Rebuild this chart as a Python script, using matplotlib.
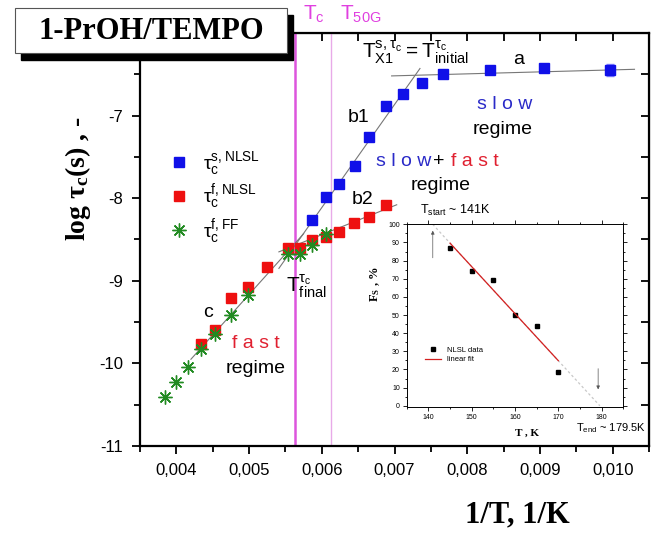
import numpy as np
import matplotlib
matplotlib.use('Agg')
import matplotlib.pyplot as plt
from matplotlib import ticker
from matplotlib.patches import Rectangle

plt.rcParams['font.family'] = ['Liberation Sans', 'DejaVu Sans']
plt.rcParams['axes.unicode_minus'] = False

# slow component, NLSL (blue squares)
invT_slow = [0.005863, 0.006055, 0.006233, 0.006452, 0.006644, 0.006877,
             0.007123, 0.007384, 0.007671, 0.008315, 0.009055, 0.009959]
logtau_slow = [-8.26, -7.98, -7.83, -7.61, -7.26, -6.89,
               -6.74, -6.60, -6.50, -6.45, -6.43, -6.45]
err_slow = [0, 0, 0.03, 0, 0, 0, 0, 0, 0, 0.03, 0.02, 0.07]

# fast component, NLSL (red squares)
invT_fast = [0.004342, 0.004534, 0.004753, 0.004986, 0.005247, 0.005534, 0.005699,
             0.005863, 0.006055, 0.006233, 0.006438, 0.006644, 0.006877]
logtau_fast = [-9.77, -9.59, -9.21, -9.08, -8.83, -8.60, -8.60,
               -8.51, -8.47, -8.41, -8.30, -8.23, -8.08]

# fast component, fast-motion formula (green stars)
invT_ff = [0.003849, 0.004000, 0.004164, 0.004342, 0.004534, 0.004753, 0.004986,
           0.005534, 0.005699, 0.005863, 0.006055]
logtau_ff = [-10.41, -10.22, -10.04, -9.83, -9.64, -9.42, -9.17,
             -8.68, -8.68, -8.57, -8.43]

# linear fits (end points)
fit_a = ([0.00696, 0.01030], [-6.52, -6.44])
fit_b1 = ([0.00541, 0.00735], [-8.85, -6.43])
fit_b2 = ([0.00541, 0.00703], [-8.65, -8.08])
fit_c = ([0.00420, 0.00575], [-9.95, -8.43])

invT_c = 0.00563
invT_50G = 0.006123

# inset: slow fraction vs T
T_K = [145, 150, 155, 160, 165, 170]
F_s = [87.2, 74.3, 69.2, 50.0, 44.0, 18.6]

fig = plt.figure(figsize=(6.68, 5.35), dpi=100)
ax = fig.add_axes([0.2096, 0.1664, 0.762, 0.772])

ax.axvline(invT_c, color='#dd55dd', lw=1.8, zorder=1)
ax.axvline(invT_50G, color='#e8aae8', lw=1.0, zorder=1)

for fx, fy in (fit_a, fit_b1, fit_b2, fit_c):
    ax.plot(fx, fy, color='#777777', lw=0.8, zorder=2)

ax.errorbar(invT_slow, logtau_slow, yerr=err_slow, fmt='none', ecolor='#8888ff', lw=1, capsize=3, zorder=3)
h1, = ax.plot(invT_slow, logtau_slow, 's', color='#1010e8', ms=7.5, mec='#1010e8', zorder=4,
              label=r'$\mathregular{\tau_c^{s,NLSL}}$')
h2, = ax.plot(invT_fast, logtau_fast, 's', color='#ee1010', ms=7.5, mec='#ee1010', zorder=4,
              label=r'$\mathregular{\tau_c^{f,NLSL}}$')
h3, = ax.plot(invT_ff, logtau_ff, ls='none', marker=(8, 2, 0), color='#228b22', ms=10, mew=1.0, zorder=5,
              label=r'$\mathregular{\tau_c^{f,FF}}$')

ax.set_xlim(0.0035, 0.0105)
ax.set_ylim(-11, -6)
ax.xaxis.set_major_locator(ticker.MultipleLocator(0.001))
ax.xaxis.set_minor_locator(ticker.MultipleLocator(0.0005))
ax.yaxis.set_major_locator(ticker.MultipleLocator(1))
ax.yaxis.set_minor_locator(ticker.MultipleLocator(0.5))
ax.xaxis.set_major_formatter(ticker.FuncFormatter(lambda v, p: ('%.3f' % v).replace('.', ',')))
# the -6 label sits under the title box
ax.yaxis.set_major_formatter(ticker.FuncFormatter(lambda v, p: '' if v > -6.5 else '%d' % round(v)))
ax.tick_params(which='both', direction='out', labelsize=12, width=1.3)
ax.tick_params(which='major', length=6, pad=6)
ax.tick_params(which='minor', length=4)
for s in ax.spines.values():
    s.set_linewidth(1.6)

# mirrored ticks pointing inward on top and right
top = ax.secondary_xaxis('top')
top.xaxis.set_major_locator(ticker.MultipleLocator(0.0005))
top.tick_params(direction='in', length=6, width=1.3, labeltop=False)
right = ax.secondary_yaxis('right')
right.yaxis.set_major_locator(ticker.MultipleLocator(0.5))
right.tick_params(direction='in', length=6, width=1.3, labelright=False)

ax.legend(handles=[h1, h2, h3], loc='upper left', bbox_to_anchor=(0.225, 0.752),
          bbox_transform=fig.transFigure, frameon=False, fontsize=14,
          labelspacing=0.28, handletextpad=0.6, handlelength=1.2)

# labels on the plot
txt = dict(fontsize=14, ha='center', va='center')
ax.text(0.0087, -6.32, 'a', **txt)
ax.text(0.006507, -7.02, 'b1', **txt)
ax.text(0.006562, -8.02, 'b2', **txt)
ax.text(0.004438, -9.38, 'c', **txt)
ax.text(0.00852, -6.87, 's l o w', color='#2a2ac8', **txt)
ax.text(0.00848, -7.17, 'regime', **txt)
ax.text(0.007123, -7.56, 's l o w', color='#2a2ac8', **txt)
ax.text(0.007603, -7.56, '+', **txt)
ax.text(0.00811, -7.56, 'f a s t', color='#e02030', **txt)
ax.text(0.00763, -7.85, 'regime', **txt)
ax.text(0.005096, -9.76, 'f a s t', color='#e02030', **txt)
ax.text(0.005096, -10.06, 'regime', **txt)
ax.text(0.006548, -6.31, r'$\mathregular{T^{s,\tau_c}_{X1}=T^{\tau_c}_{initial}}$', fontsize=15, va='baseline')
ax.text(0.005507, -9.14, r'$\mathregular{T^{\tau_c}_{final}}$', fontsize=15, va='baseline')

fig.text(0.4536, 0.974, r'$\mathregular{T_c}$', color='#e040e0', fontsize=15, va='center')
fig.text(0.509, 0.974, r'$\mathregular{T_{50G}}$', color='#e040e0', fontsize=15, va='center')

fig.text(0.117, 0.667, r'log $\mathregular{\tau_c}$(s) , -', family='Liberation Serif', weight='bold',
         fontsize=20, rotation=90, ha='center', va='center')
fig.text(0.774, 0.037, '1/T, 1/K', family='Liberation Serif', weight='bold', fontsize=22,
         ha='center', va='center')

# title box with shadow
fig.patches.append(Rectangle((0.0314, 0.8879), 0.407, 0.0841, transform=fig.transFigure,
                             facecolor='black', edgecolor='black', zorder=5))
fig.patches.append(Rectangle((0.0225, 0.9009), 0.407, 0.0841, transform=fig.transFigure,
                             facecolor='white', edgecolor='#555555', lw=0.8, zorder=6))
fig.text(0.226, 0.942, '1-PrOH/TEMPO', family='Liberation Serif', weight='bold', fontsize=22,
         ha='center', va='center', zorder=7)

# inset
axin = fig.add_axes([0.609, 0.2398, 0.324, 0.341])
slope, icpt = np.polyfit(T_K, F_s, 1)
T_start = (100 - icpt) / slope
T_end = -icpt / slope
axin.plot([T_start, T_end], [slope * T_start + icpt, 0], color='#c8c8c8', lw=0.9, ls=(0, (2, 2)))
axin.plot(T_K, F_s, 's', color='black', ms=3.5, label='NLSL data')
axin.plot([T_K[0], T_K[-1]], [slope * T_K[0] + icpt, slope * T_K[-1] + icpt], color='#d42020', lw=0.9,
          label='linear fit')
axin.annotate('', xy=(141, 98), xytext=(141, 80),
              arrowprops=dict(arrowstyle='-|>', lw=0.5, color='#555555', mutation_scale=5))
axin.annotate('', xy=(179.2, 7.5), xytext=(179.2, 22),
              arrowprops=dict(arrowstyle='-|>', lw=0.5, color='#555555', mutation_scale=5))
axin.set_xlim(135, 185)
axin.set_ylim(-0.5, 100)
axin.xaxis.set_major_locator(ticker.MultipleLocator(10))
axin.xaxis.set_minor_locator(ticker.MultipleLocator(5))
axin.yaxis.set_major_locator(ticker.MultipleLocator(10))
axin.yaxis.set_minor_locator(ticker.MultipleLocator(5))
axin.tick_params(which='both', labelsize=5, width=0.6, pad=2, top=True, right=True)
axin.tick_params(which='major', length=3)
axin.tick_params(which='minor', length=1.5)
for s in axin.spines.values():
    s.set_linewidth(0.7)
axin.legend(loc='lower left', bbox_to_anchor=(0.05, 0.2), frameon=False, fontsize=5.5,
            handlelength=2.2, labelspacing=0.3)

fig.text(0.681, 0.607, r'$\mathregular{T_{start}}$ ~ 141K', fontsize=9, ha='center', va='center')
fig.text(0.915, 0.2, r'$\mathregular{T_{end}}$ ~ 179.5K', fontsize=8, ha='center', va='center')
fig.text(0.789, 0.191, 'T , K', family='Liberation Serif', weight='bold', fontsize=8,
         ha='center', va='center')
fig.text(0.561, 0.469, r'$\mathregular{F_S}$ , %', family='Liberation Serif', weight='bold',
         fontsize=9, rotation=90, ha='center', va='center')

fig.savefig('out.png', dpi=100)
